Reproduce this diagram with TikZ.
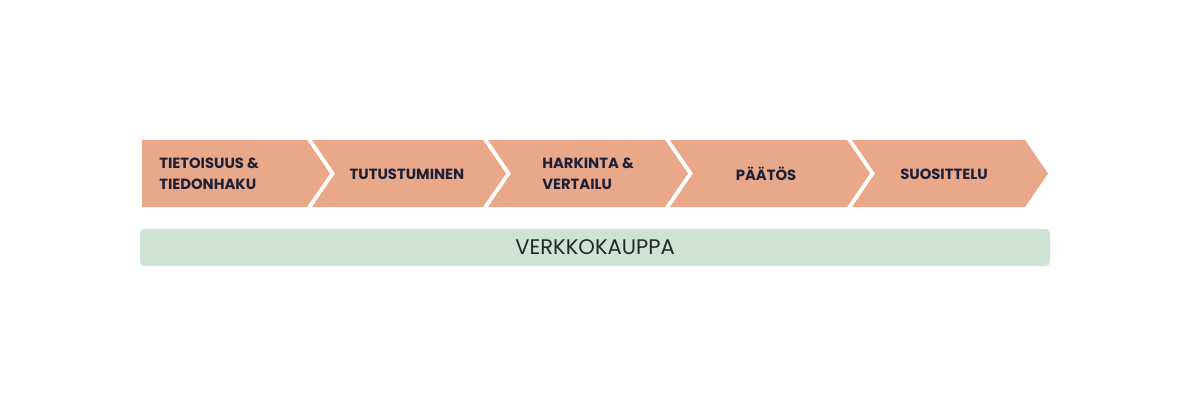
\documentclass[tikz,border=0pt]{standalone}
\usepackage{fontspec}
\setmainfont{Poppins}
\usepackage{tikz}
\definecolor{pathsalmon}{RGB}{233,168,137}
\definecolor{shopgreen}{RGB}{207,227,213}
\definecolor{inknavy}{RGB}{30,32,56}

\begin{document}
\begin{tikzpicture}[x=0.025cm, y=-0.025cm]
  \useasboundingbox (0,0) rectangle (1200,400);
  \tikzset{
    phase/.style={text=inknavy, font=\fontsize{10.5}{15}\selectfont\bfseries, inner sep=0pt},
    shopbar/.style={fill=shopgreen, rounded corners=3pt}
  }
  % chevrons: left edge / right edge at top
  \fill[pathsalmon] (142,140) -- (307,140) -- (330,173.5) -- (307,207) -- (142,207) -- cycle;
  \foreach \l/\r in {312/483, 488/665, 670/847, 852/1025} {
    \fill[pathsalmon] (\l,140) -- (\r,140) -- (\r+23,173.5) -- (\r,207) -- (\l,207) -- (\l+23,173.5) -- cycle;
  }
  % phase labels
  \node[phase, anchor=west, align=left] (awareness) at (159,174) {TIETOISUUS \&\\TIEDONHAKU};
  \node[phase] (explore) at (407,174) {TUTUSTUMINEN};
  \node[phase, anchor=west, align=left] (compare) at (542,174) {HARKINTA \&\\VERTAILU};
  \node[phase] (decision) at (766,174) {PÄÄTÖS};
  \node[phase] (recommend) at (944,174) {SUOSITTELU};
  % web shop bar
  \fill[shopbar] (140,229) rectangle (1050,266);
  \node[text=black!85, font=\fontsize{15}{17}\selectfont] (webshop) at (595,247.5) {VERKKOKAUPPA};
\end{tikzpicture}
\end{document}
